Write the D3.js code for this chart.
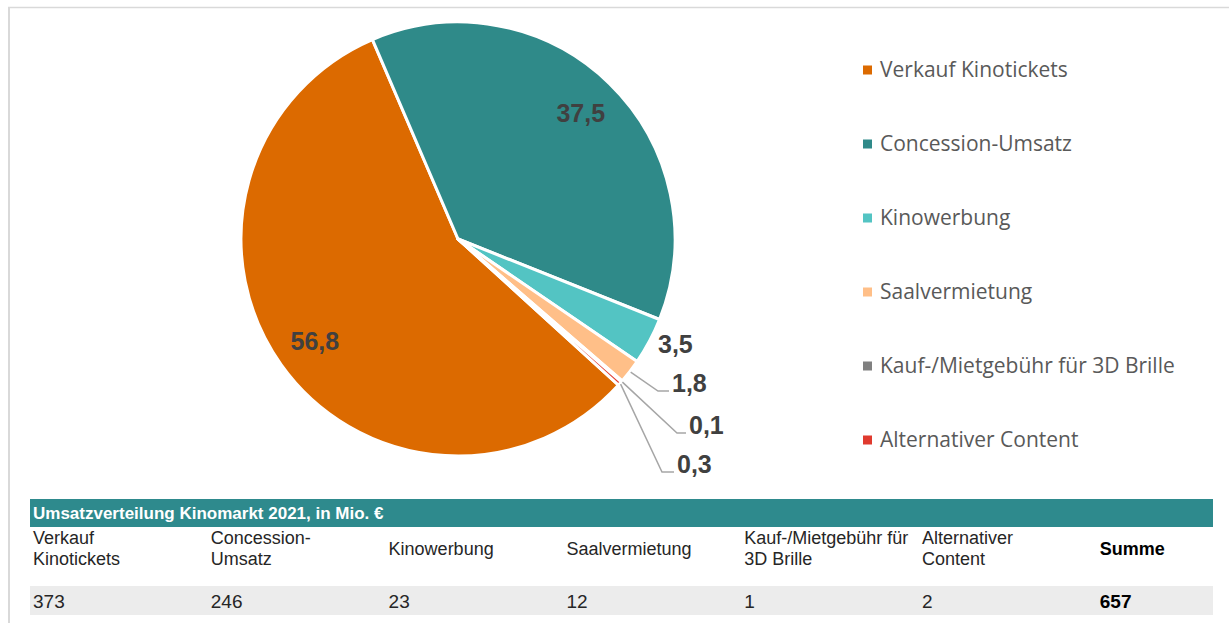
<!DOCTYPE html>
<html><head><meta charset="utf-8">
<script src="https://cdn.jsdelivr.net/npm/d3@7"></script>
<style>html,body{margin:0;padding:0;background:#fff;}svg{display:block;}</style>
</head><body>
<svg id="chart" width="1229" height="623"></svg>
<script>
// ---- data ----
const categories = ["Verkauf Kinotickets","Concession-Umsatz","Kinowerbung","Saalvermietung","Kauf-/Mietgebühr für 3D Brille","Alternativer Content"];
const shares = [56.8, 37.5, 3.5, 1.8, 0.1, 0.3];          // % shown in pie
const shareLabels = ["56,8","37,5","3,5","1,8","0,1","0,3"];
const tableHeaders = [["Verkauf","Kinotickets"],["Concession-","Umsatz"],["Kinowerbung"],["Saalvermietung"],["Kauf-/Mietgebühr für","3D Brille"],["Alternativer","Content"],["Summe"]];
const tableValues = ["373","246","23","12","1","2","657"];
const tableTitle = "Umsatzverteilung Kinomarkt 2021, in Mio. €";
const colors = ["#dc6a00","#2f8a89","#53c4c3","#ffbf88","#808080","#e03a2e"];

// ---- layout (not data) ----
const W = 1229, H = 623;
const cx = 458, cy = 239, R = 217;
const startDeg = 132.3;
// outer label placement: elbow offset relative to pie center (px), null = no leader
const outerLayout = {
  2: {text:[200,114], leader:null},
  3: {elbow:[200,152], len:11},
  4: {elbow:[219,194], len:9},
  5: {elbow:[204,233], len:12}
};

const svg = d3.select("#chart");

// frame
svg.append("line").attr("x1",8).attr("x2",W).attr("y1",7.5).attr("y2",7.5).attr("stroke","#d9d9d9").attr("stroke-width",1.5);
svg.append("line").attr("x1",9).attr("x2",9).attr("y1",7).attr("y2",H).attr("stroke","#d9d9d9").attr("stroke-width",2);

const pie = d3.pie().sort(null).value(d=>d)
  .startAngle(startDeg*Math.PI/180).endAngle(startDeg*Math.PI/180 + 2*Math.PI);
const arcs = pie(shares);
const arc = d3.arc().innerRadius(0).outerRadius(R);
const g = svg.append("g").attr("transform",`translate(${cx},${cy})`);

g.selectAll("path.slice").data(arcs).enter().append("path")
  .attr("class","slice")
  .attr("d",arc)
  .attr("fill",(d,i)=>colors[i])
  .attr("stroke","#fff").attr("stroke-width",3).attr("stroke-linejoin","round");

const labelFont = "'Liberation Sans', Arial, sans-serif";
// inner labels
const innerArc = d3.arc().innerRadius(R*0.81).outerRadius(R*0.81);
arcs.forEach((d,i)=>{
  if (i<2){
    const [x,y] = innerArc.centroid(d);
    g.append("text").attr("x",x).attr("y",y).attr("dy","0.36em")
      .attr("text-anchor","middle").attr("font-family",labelFont)
      .attr("font-weight","bold").attr("font-size",25).attr("fill","#404040")
      .text(shareLabels[i]);
  } else {
    const L = outerLayout[i];
    if (L.text){
      g.append("text").attr("x",L.text[0]).attr("y",L.text[1])
        .attr("font-family",labelFont).attr("font-weight","bold").attr("font-size",25).attr("fill","#404040")
        .text(shareLabels[i]);
    } else {
      const a = (d.startAngle+d.endAngle)/2;
      const sx = Math.sin(a)*(R+1), sy = -Math.cos(a)*(R+1);
      const [ex,ey] = L.elbow;
      g.append("polyline")
        .attr("points",`${sx},${sy} ${ex},${ey} ${ex+L.len},${ey}`)
        .attr("fill","none").attr("stroke","#a6a6a6").attr("stroke-width",1.5);
      g.append("text").attr("x",ex+L.len+3).attr("y",ey+1)
        .attr("font-family",labelFont).attr("font-weight","bold").attr("font-size",25).attr("fill","#404040")
        .text(shareLabels[i]);
    }
  }
});

// legend
const legY = d3.scalePoint().domain(d3.range(categories.length)).range([70,440]);
const leg = svg.append("g");
categories.forEach((c,i)=>{
  const y = legY(i);
  leg.append("rect").attr("x",863).attr("y",y-4.5).attr("width",9).attr("height",9).attr("fill",colors[i]);
  leg.append("text").attr("x",880).attr("y",y).attr("dy","0.35em")
    .attr("font-family","'Open Sans', sans-serif").attr("font-size",21).attr("fill","#595959")
    .text(c);
});

// table
const tblX0 = 30, tblX1 = 1213;
const colX = d3.scaleLinear().domain([0,7]).range([33, 33+7*177.8]);
svg.append("rect").attr("x",tblX0).attr("y",499).attr("width",tblX1-tblX0).attr("height",28).attr("fill","#2e8a8d");
const tf = "'Liberation Sans Narrow','Arial Narrow','Liberation Sans',sans-serif";
svg.append("text").attr("x",33).attr("y",513).attr("dy","0.35em")
  .attr("font-family",tf).attr("font-weight","bold").attr("font-size",17).attr("fill","#fff")
  .text(tableTitle);
svg.append("rect").attr("x",tblX0).attr("y",586).attr("width",tblX1-tblX0).attr("height",29).attr("fill","#ececec");
tableHeaders.forEach((lines,i)=>{
  const isSum = i===tableHeaders.length-1;
  const t = svg.append("text").attr("font-family",tf).attr("font-size",18).attr("fill",isSum?"#000":"#262626")
    .attr("font-weight",isSum?"bold":"normal");
  const y0 = lines.length===1 ? 549 : 538;
  lines.forEach((l,k)=>{
    t.append("tspan").attr("x",colX(i)).attr("y",y0+k*21).attr("dy","0.35em").text(l);
  });
});
tableValues.forEach((v,i)=>{
  const isSum = i===tableValues.length-1;
  svg.append("text").attr("x",colX(i)).attr("y",601).attr("dy","0.36em")
    .attr("font-family",tf).attr("font-size",19).attr("fill",isSum?"#000":"#262626")
    .attr("font-weight",isSum?"bold":"normal").text(v);
});
</script>
</body></html>
